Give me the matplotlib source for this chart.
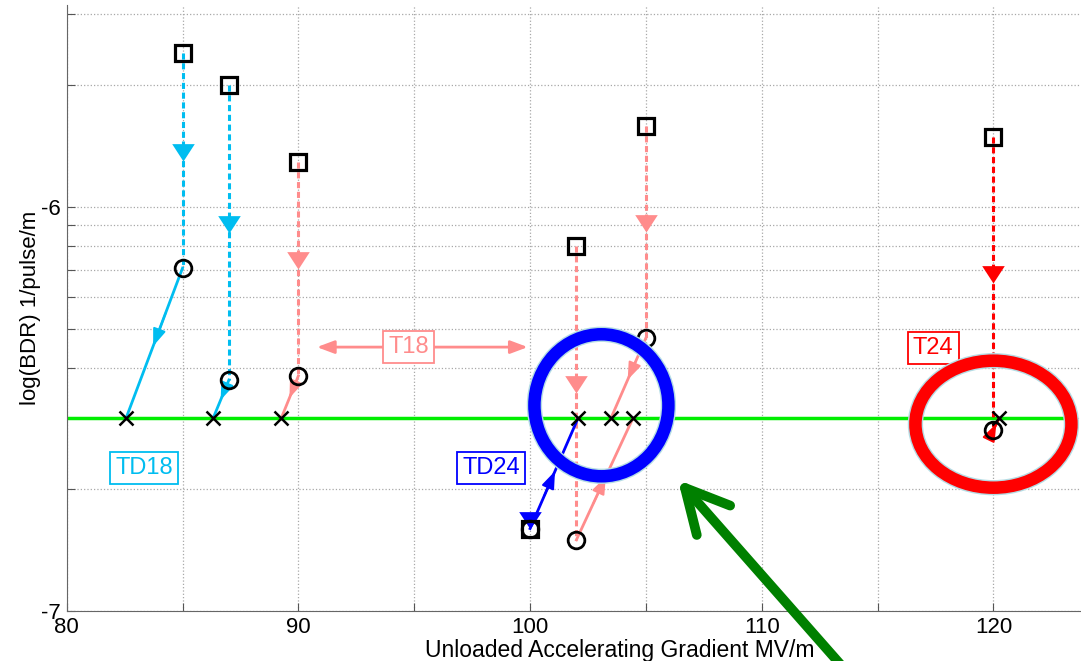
import numpy as np
import matplotlib
matplotlib.use("Agg")
import matplotlib.pyplot as plt
import matplotlib.transforms as mtransforms
from matplotlib.patches import Ellipse
from matplotlib.path import Path
from matplotlib.ticker import FixedLocator, LogLocator, NullFormatter, FuncFormatter

plt.rcParams["font.family"] = ["Liberation Sans", "DejaVu Sans"]

# one run per structure: start (square) -> after conditioning (circle) -> scaled to reference BDR (cross)
run_label = ["TD18", "TD18", "T18", "T18", "T18", "TD24", "T24"]
grad_start = [85, 87, 90, 102, 105, 100, 120]
bdr_start = [2.4e-6, 2.0e-6, 1.29e-6, 8.0e-7, 1.59e-6, 1.6e-7, 1.49e-6]
bdr_cond = [7.06e-7, 3.73e-7, 3.82e-7, 1.5e-7, 4.74e-7, 1.6e-7, 2.81e-7]
grad_scaled = [82.56, 86.32, 89.26, 104.44, 103.49, 102.07, 120.24]
bdr_ref = 3e-7
ref_x = [80, 123]

colors = {"TD18": "#00BDF0", "T18": "#FF8C8C", "TD24": "#0000FF", "T24": "#FF0000"}

label_text = ["TD18", "T18", "TD24", "T24"]
label_x = [83.34, 94.77, 98.31, 117.4]
label_y = [2.26e-7, 4.5e-7, 2.26e-7, 4.48e-7]
t18_span = [90.8, 99.9]

# highlighted spots (centre x, centre y)
ring_x, ring_y = 103.08, 3.23e-7
oval_x, oval_y = 120.0, 2.9e-7

fig = plt.figure(figsize=(10.81, 6.61), dpi=100)
ax = fig.add_axes([66.7 / 1081, 50 / 661, 1 - 66.7 / 1081, 606 / 661])
ax.set_yscale("log")
ax.set_xlim(80, 123.78)
ax.set_ylim(1e-7, 10 ** -5.5)

ax.set_xticks([80, 90, 100, 110, 120])
ax.set_xticks([85, 95, 105, 115], minor=True)
ax.yaxis.set_major_locator(FixedLocator([1e-7, 1e-6]))
ax.yaxis.set_major_formatter(FuncFormatter(lambda v, p: "%d" % round(np.log10(v))))
ax.yaxis.set_minor_locator(LogLocator(base=10, subs=np.arange(2, 10)))
ax.yaxis.set_minor_formatter(NullFormatter())

ax.grid(True, which="both", ls=":", color="#a8a8a8", lw=0.9)
ax.tick_params(which="both", direction="in", length=6, width=0.8, color="#555555",
               labelsize=16, pad=4)
for side in ["top", "right"]:
    ax.spines[side].set_visible(False)
for side in ["left", "bottom"]:
    ax.spines[side].set_color("#666666")

ax.set_xlabel("Unloaded Accelerating Gradient MV/m", fontsize=16.5)
ax.set_ylabel("log(BDR) 1/pulse/m", fontsize=16)
ax.xaxis.set_label_coords(0.5455, -0.046)
ax.yaxis.set_label_coords(-0.025, 0.5)

# reference BDR line
ax.plot(ref_x, [bdr_ref, bdr_ref], color="#00EE00", lw=2.5, zorder=2)

# arrow-like triangle, tip at the origin
tri = Path([(-0.5, 0.77), (0.5, 0.77), (0, 0), (-0.5, 0.77)],
           [Path.MOVETO, Path.LINETO, Path.LINETO, Path.CLOSEPOLY])


def along(x0, y0, x1, y1, t):
    ly = np.log10(y0) + t * (np.log10(y1) - np.log10(y0))
    return x0 + t * (x1 - x0), 10 ** ly


for i in range(len(run_label)):
    c = colors[run_label[i]]
    x0, x1 = grad_start[i], grad_scaled[i]
    s, m = bdr_start[i], bdr_cond[i]
    # conditioning (dashed, arrow half way)
    ax.plot([x0, x0], [s, m], color=c, lw=2.2, ls="--", dashes=(2.0, 1.2), zorder=3)
    mx, my = along(x0, s, x0, m, 0.5)
    ax.plot([mx], [my], marker=tri, ms=25, color=c, mec=c, mew=0, ls="none", zorder=4)
    # scaling to reference BDR (solid, arrow half way)
    ax.plot([x0, x1], [m, bdr_ref], color=c, lw=2.0, zorder=3)
    ax.annotate("", xy=along(x0, m, x1, bdr_ref, 0.52), xytext=along(x0, m, x1, bdr_ref, 0.3),
                arrowprops=dict(arrowstyle="-|>,head_length=0.8,head_width=0.3", color=c,
                                lw=1.5, shrinkA=0, shrinkB=0, mutation_scale=13), zorder=4)
    ax.plot([x0], [s], "s", ms=11, mfc="none", mec="black", mew=2.3, zorder=5)
    ax.plot([x0], [m], "o", ms=12, mfc="none", mec="black", mew=2.0, zorder=5)
    ax.plot([x1], [bdr_ref], "x", ms=10, mec="black", mew=1.8, zorder=5)

# T18 span arrow
ax.annotate("", xy=(t18_span[1], label_y[1]), xytext=(t18_span[0], label_y[1]),
            arrowprops=dict(arrowstyle="<|-|>,head_length=0.8,head_width=0.3",
                            color=colors["T18"], lw=2.0, shrinkA=0, shrinkB=0,
                            mutation_scale=13), zorder=3)

for txt, tx, ty in zip(label_text, label_x, label_y):
    c = colors[txt]
    ax.text(tx, ty, txt, color=c, fontsize=17, ha="center", va="center", zorder=6,
            bbox=dict(boxstyle="square,pad=0.22", fc="white", ec=c, lw=1.3))

# highlight ring and oval, sized in inches around a data point
def oval(x, y, w, h, col):
    tr = fig.dpi_scale_trans + mtransforms.ScaledTranslation(x, y, ax.transData)
    ax.add_patch(Ellipse((0, 0), w, h, transform=tr, fill=False, ec="#b4dce4",
                         lw=11, clip_on=False, zorder=7))
    ax.add_patch(Ellipse((0, 0), w, h, transform=tr, fill=False, ec=col,
                         lw=9, clip_on=False, zorder=8))


oval(ring_x, ring_y, 1.34, 1.42, "#0000FF")
oval(oval_x, oval_y, 1.56, 1.27, "#FF0000")

# pointer arrow
ax.annotate("", xy=(678, 181), xycoords="figure pixels", xytext=(848, -12),
            textcoords="figure pixels", annotation_clip=False,
            arrowprops=dict(arrowstyle="->,head_length=3.1,head_width=1.6", mutation_scale=10,
                            lw=7, color="#008000", shrinkA=0, shrinkB=0), zorder=9)

fig.savefig("out.png", dpi=100)
